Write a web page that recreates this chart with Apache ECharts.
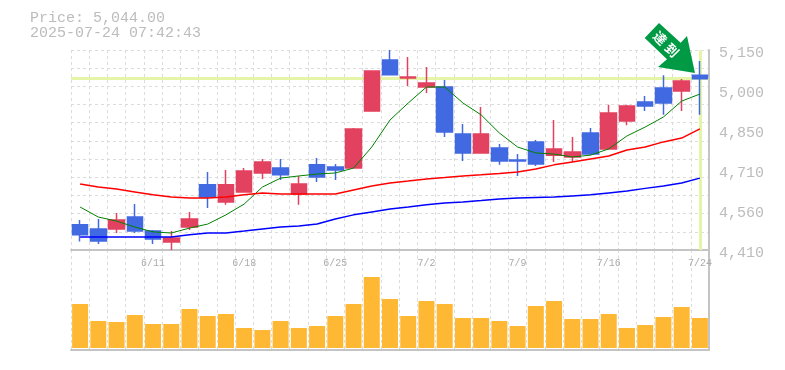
<!DOCTYPE html>
<html><head><meta charset="utf-8">
<style>html,body{margin:0;padding:0;background:#fff}#c{width:785px;height:370px}</style>
<script src="https://cdn.jsdelivr.net/npm/echarts@6/dist/echarts.min.js"></script></head>
<body><div id="c"></div>
<script>
const dates=['6/5','6/6','6/9','6/10','6/11','6/12','6/13','6/16','6/17','6/18','6/19','6/20','6/23','6/24','6/25','6/26','6/27','6/30','7/1','7/2','7/3','7/4','7/7','7/8','7/9','7/10','7/11','7/14','7/15','7/16','7/17','7/18','7/22','7/23','7/24'];
const labelled=['6/11','6/18','6/25','7/2','7/9','7/16','7/24'];
const opens=[4503,4488,4488,4532,4480,4440,4495,4651,4588,4625,4695,4713,4617,4725,4717,4713,4924,5113,5046,5013,5013,4839,4769,4787,4743,4810,4761,4754,4843,4784,4887,4958,5009,4998,5057];
const closes=[4466,4443,4521,4480,4451,4454,4525,4606,4651,4702,4736,4688,4654,4680,4706,4858,5072,5058,5050,5028,4847,4769,4839,4739,4739,4728,4784,4773,4765,4917,4943,4943,4954,5035,5044];
const lows=[4441,4432,4473,4473,4432,4410,4484,4565,4577,4625,4673,4669,4577,4662,4669,4713,4924,5058,5017,4991,4828,4739,4769,4725,4684,4721,4736,4736,4761,4784,4872,4924,4910,4924,4910];
const highs=[4521,4525,4547,4580,4484,4480,4551,4699,4706,4713,4747,4747,4684,4750,4728,4861,5072,5150,5124,5087,5039,4876,4939,4802,4765,4817,4891,4828,4861,4947,4947,4980,5057,5043,5109];
const ma5=[4569,4532,4517,4495,4477,4473,4491,4506,4540,4580,4643,4676,4684,4691,4695,4713,4791,4891,4954,5013,5013,4954,4910,4843,4791,4769,4765,4754,4761,4784,4832,4865,4902,4961,4987];
const ma25=[4654,4643,4636,4625,4614,4606,4602,4602,4606,4614,4621,4617,4617,4617,4617,4632,4647,4658,4665,4673,4678,4684,4688,4693,4699,4710,4725,4736,4747,4758,4780,4791,4810,4824,4858];
const ma75=[4458,4458,4458,4458,4458,4458,4466,4473,4473,4480,4488,4495,4499,4506,4525,4540,4551,4562,4569,4577,4584,4588,4593,4599,4602,4604,4606,4610,4614,4621,4628,4638,4647,4658,4676];
const volumes=[44,27,26,33,24,24,39,32,34,20,18,27,20,22,32,44,71,49,32,47,44,30,30,27,22,42,47,29,29,34,20,23,31,41,30];
const priceTicks=['4,410','4,560','4,710','4,850','5,000','5,150'];
const lastPrice=5044;
const titleLines=['Price: 5,044.00','2025-07-24 07:42:43'];
const arrowText=['達','到'];
const MONO='"Liberation Mono","DejaVu Sans Mono",monospace';
const GRID='#dcdcdc', AXIS='#c4c4c4', TXT='#bcbcbc', RED='#e2415f', BLUE='#4169e1';
const priceMin=4410, priceMax=5150, gridStep=(priceMax-priceMin)/11, labelStep=(priceMax-priceMin)/5;
const chart=echarts.init(document.getElementById('c'),null,{renderer:'canvas'});
const catAxis=(gi,show)=>({type:'category',gridIndex:gi,data:dates,boundaryGap:true,
  axisTick:{show:false},axisLine:{show:true,onZero:false,lineStyle:{color:AXIS,width:2}},
  axisLabel:show?{show:true,interval:0,margin:8,hideOverlap:false,color:'#acacac',fontFamily:MONO,fontSize:10,
    formatter:v=>labelled.includes(v)?v:''}:{show:false},
  splitLine:{show:true,interval:0,lineStyle:{color:GRID,type:[3,3],width:1}}});
chart.setOption({
  animation:false,
  grid:[{left:71,top:50,width:638,height:200,show:false},
        {left:71,top:250,width:638,height:100,show:false},
        {left:71,top:53,width:638,height:200,show:false}],
  xAxis:[catAxis(0,true),catAxis(1,false),
    {type:'category',gridIndex:2,data:dates,show:false}],
  yAxis:[{type:'value',gridIndex:0,position:'right',min:priceMin,max:priceMax,interval:gridStep,
      axisLine:{show:true,lineStyle:{color:AXIS,width:2}},axisTick:{show:false},axisLabel:{show:false},
      splitLine:{show:true,lineStyle:{color:GRID,type:[3,3],width:1}}},
    {type:'value',gridIndex:1,position:'right',min:-2,max:98,
      axisLine:{show:true,lineStyle:{color:AXIS,width:2}},axisTick:{show:false},axisLabel:{show:false},splitLine:{show:false}},
    {type:'value',gridIndex:2,position:'right',min:priceMin,max:priceMax,interval:labelStep,
      axisLine:{show:false},axisTick:{show:false},splitLine:{show:false},
      axisLabel:{color:TXT,fontFamily:MONO,fontSize:15,margin:10,
        formatter:v=>priceTicks[Math.round((v-priceMin)/labelStep)]}}],
  series:[
    {type:'line',name:'ref',xAxisIndex:0,yAxisIndex:0,data:[],silent:true,z:1,
      markLine:{silent:true,z:1,symbol:'none',label:{show:false},lineStyle:{color:'#e4f5a8',width:3,type:'solid'},
        data:[{yAxis:lastPrice},{xAxis:dates[dates.length-1]}]}},
    {type:'candlestick',xAxisIndex:0,yAxisIndex:0,barWidth:16,z:3,
      data:dates.map((_,i)=>[opens[i],closes[i],lows[i],highs[i]]),
      itemStyle:{color:RED,color0:BLUE,borderColor:RED,borderColor0:BLUE,borderWidth:1.5}},
    {type:'line',xAxisIndex:0,yAxisIndex:0,data:ma5,symbol:'none',z:4,lineStyle:{color:'#008000',width:1}},
    {type:'line',xAxisIndex:0,yAxisIndex:0,data:ma25,symbol:'none',z:4,lineStyle:{color:'#ff0000',width:1.5}},
    {type:'line',xAxisIndex:0,yAxisIndex:0,data:ma75,symbol:'none',z:4,lineStyle:{color:'#0000ff',width:1.5}},
    {type:'bar',xAxisIndex:1,yAxisIndex:1,data:volumes,barWidth:16,itemStyle:{color:'#ffb833'},z:3}
  ],
  graphic:[
    {type:'text',left:30,top:11,style:{text:titleLines[0],font:'15px '+MONO,fill:TXT}},
    {type:'text',left:30,top:26,style:{text:titleLines[1],font:'15px '+MONO,fill:TXT}},
    {type:'polygon',z:10,shape:{points:[[695,73],[687,36],[680.7,42.7],[659,23],[644.7,38],[667,59.3],[658,67]]},style:{fill:'#009944'}},
    {type:'text',z:11,x:660,y:38,rotation:-Math.PI/4,style:{text:arrowText[0],font:'bold 13px "Noto Sans CJK JP"',fill:'#fff',align:'center',verticalAlign:'middle'}},
    {type:'text',z:11,x:672,y:50,rotation:-Math.PI/4,style:{text:arrowText[1],font:'bold 13px "Noto Sans CJK JP"',fill:'#fff',align:'center',verticalAlign:'middle'}}
  ]
});
</script></body></html>
